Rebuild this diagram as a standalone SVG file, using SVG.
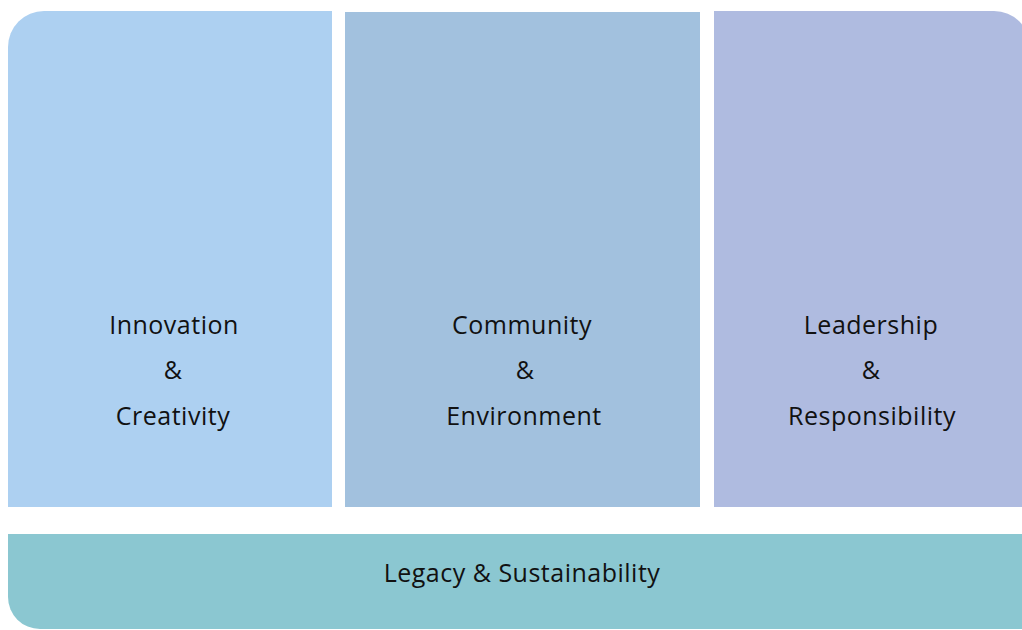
<svg xmlns="http://www.w3.org/2000/svg" width="1022" height="630" viewBox="0 0 1022 630">
<style>
.t{font-family:"Open Sans","Noto Sans","Liberation Sans",sans-serif;font-size:25px;letter-spacing:0.5px;fill:#111;text-anchor:middle}
</style>
<rect width="1022" height="630" fill="#fff"/>
<g id="innovation">
<path d="M8,507 V47 A36,36 0 0 1 44,11 H332 V507 Z" fill="#ADD0F1"/>
<text class="t" x="174" y="334">Innovation</text>
<text class="t" x="173" y="379">&amp;</text>
<text class="t" x="173" y="425">Creativity</text>
</g>
<g id="community">
<rect x="345" y="12" width="355" height="495" fill="#A2C1DE"/>
<text class="t" x="522" y="334">Community</text>
<text class="t" x="525" y="379">&amp;</text>
<text class="t" x="524" y="425">Environment</text>
</g>
<g id="leadership">
<path d="M714,507 V11 H994 A36,36 0 0 1 1030,47 V507 Z" fill="#AFBBE0"/>
<text class="t" x="871" y="334">Leadership</text>
<text class="t" x="871" y="379">&amp;</text>
<text class="t" x="872" y="425">Responsibility</text>
</g>
<g id="legacy">
<path d="M8,534 H1030 V629 H40 A32,32 0 0 1 8,597 Z" fill="#8BC7D1"/>
<text class="t" x="522" y="582">Legacy &amp; Sustainability</text>
</g>
<g id="connectors"/>
</svg>
